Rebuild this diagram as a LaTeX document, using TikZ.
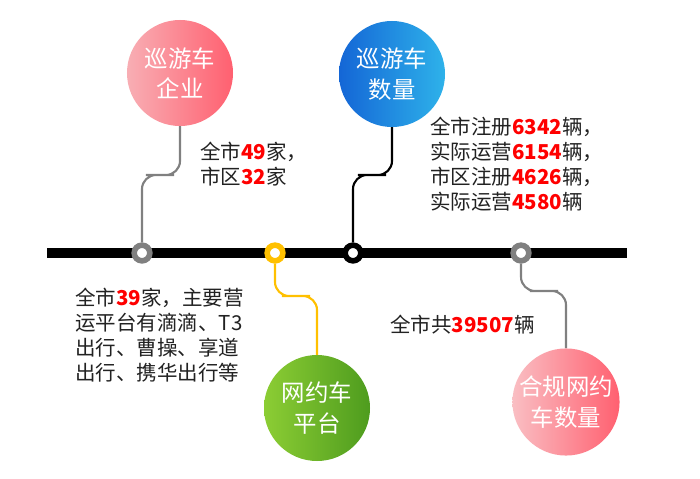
\documentclass[tikz,border=0pt]{standalone}
\usepackage{fontspec}
\setmainfont{Noto Sans CJK SC}
\usetikzlibrary{positioning}
\definecolor{txtgray}{HTML}{222222}
\definecolor{numred}{HTML}{FF0000}
\definecolor{ringgray}{HTML}{808080}
\definecolor{ringyellow}{HTML}{FFC000}
\definecolor{pinkL}{HTML}{F8AEB4}
\definecolor{pinkR}{HTML}{FF6070}
\definecolor{blueL}{HTML}{1466D6}
\definecolor{blueR}{HTML}{2EB2EA}
\definecolor{greenL}{HTML}{8CCD34}
\definecolor{greenR}{HTML}{4E9C1E}
\newcommand\redn[1]{\textcolor{numred}{\textbf{#1}}}

\begin{document}
\begin{tikzpicture}[
  x=0.03cm, y=-0.03cm,
  every node/.style={font=\fontsize{17.5}{21.5}\selectfont, text=txtgray},
  bubble/.style={circle, minimum size=3.18cm, inner sep=0pt, align=center,
    text=white, font=\fontsize{20}{26}\selectfont},
  ring/.style={circle, draw, fill=white, line width=4.8pt, minimum size=0.47cm, inner sep=0pt},
  conn/.style={line width=1.8pt, rounded corners=12pt},
  info/.style={align=left, anchor=west, inner sep=0pt},
  bar/.style={line width=8.5pt, draw=black}
]
\fill[white] (0,0) rectangle (700,479);
\useasboundingbox (0,0) rectangle (700,479);

% Timeline
\coordinate (barL) at (47,253);
\coordinate (barR) at (627,253);
\draw[bar] (barL) -- (barR);

% Bubbles
\node[bubble, left color=pinkL, right color=pinkR] (cruiseFirm) at (180,73) {巡游车\\企业};
\node[bubble, left color=blueL, right color=blueR] (cruiseNum) at (392,74) {巡游车\\数量};
\node[bubble, left color=greenL, right color=greenR] (rideFirm) at (317,408) {网约车\\平台};
\node[bubble, left color=pinkL!80, right color=pinkR] (rideNum) at (566,402) {合规网约\\车数量};

% Rings on the timeline
\node[ring, draw=ringgray]   (r1) at (142,253) {};
\node[ring, draw=ringyellow] (r2) at (275,253) {};
\node[ring, draw=black]      (r3) at (353,253) {};
\node[ring, draw=ringgray]   (r4) at (521,253) {};

% Connectors
\coordinate (k1) at (160,175);
\coordinate (k2) at (372,175);
\coordinate (k3) at (296,296);
\coordinate (k4) at (544,291);
\draw[conn, draw=ringgray]   (r1) |- (k1) -| (cruiseFirm);
\draw[conn, draw=black]      (r3) |- (k2) -| (cruiseNum);
\draw[conn, draw=ringyellow] (r2) |- (k3) -| (rideFirm);
\draw[conn, draw=ringgray]   (r4) |- (k4) -| (rideNum);

% Texts
\node[info] (cruiseFirmTxt) at (200,164) {全市\redn{49}家，\\市区\redn{32}家};
\node[info] (cruiseNumTxt) at (430,164) {全市注册\redn{6342}辆，\\实际运营\redn{6154}辆，\\市区注册\redn{4626}辆，\\实际运营\redn{4580}辆};
\node[info] (rideFirmTxt) at (75,335) {全市\redn{39}家，主要营\\运平台有滴滴、T3\\出行、曹操、享道\\出行、携华出行等};
\node[info] (rideNumTxt) at (390,325) {全市共\redn{39507}辆};

\end{tikzpicture}
\end{document}
